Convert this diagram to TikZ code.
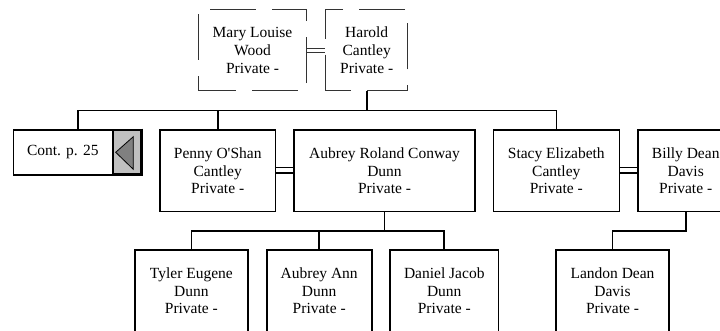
\documentclass[tikz,border=0pt]{standalone}
\usepackage{fontspec}
\newfontfamily\chartfont{Liberation Serif}
\usetikzlibrary{calc}
\definecolor{btngray}{HTML}{C0C0C0}
\definecolor{trigray}{HTML}{808080}
\begin{document}
\begin{tikzpicture}[x=1pt,y=-1pt,
  every node/.style={font=\chartfont\fontsize{15.5pt}{17.8pt}\selectfont},
  person/.style={draw=black, line width=1.6pt, align=center, inner sep=0pt, minimum height=81.7pt},
  parentbox/.style={draw=black!80, line width=1pt, align=center, inner sep=0pt, minimum height=80.7pt, dash pattern=on 46pt off 16pt},
  conn/.style={line width=1.6pt, draw=black},
  pconn/.style={line width=1pt, draw=black!80},
  dbl/.style={line width=1.4pt, draw=black},
]
\useasboundingbox (0,0) rectangle (720,331);
\clip (0,0) rectangle (720,331);

% parents
\node[parentbox, minimum width=108.4pt, dash phase=8pt] (mary) at (252.5,50.35) {Mary Louise\\Wood\\Private -};
\node[parentbox, minimum width=82pt, dash phase=20.6pt] (harold) at (366.7,50.35) {Harold\\Cantley\\Private -};
\draw[pconn] ([yshift=1.9pt]mary.east) -- ([yshift=1.9pt]harold.west);
\draw[pconn] ([yshift=-1.9pt]mary.east) -- ([yshift=-1.9pt]harold.west);

% continuation box
\node[draw=black, line width=1.4pt, fill=white, inner sep=0pt, minimum width=99pt, minimum height=45pt] (conttext) at (62.8,152.5) {Cont. p. 25};
\node[draw=black, line width=1.4pt, fill=btngray, inner sep=0pt, minimum width=28.4pt, minimum height=45pt, anchor=west] (contbtn) at (conttext.east) {};
\draw[line width=2.8pt] ([xshift=-1pt,yshift=0.7pt]contbtn.north east) -- ([xshift=-1pt,yshift=1pt]contbtn.south east) -- ([yshift=1pt]contbtn.south west);
\draw[fill=trigray, line width=0.8pt] (115.7,152.3) -- (133.3,136.7) -- (133.3,169.3) -- cycle;
\coordinate (conttop) at ($(conttext.north west)!0.5!(contbtn.north east)$);

% generation 2
\node[person, minimum width=115.3pt] (penny) at (217.7,170.85) {Penny O'Shan\\Cantley\\Private -};
\node[person, minimum width=181pt] (aubrey) at (384.5,170.85) {Aubrey Roland Conway\\Dunn\\Private -};
\node[person, minimum width=126pt] (stacy) at (556.3,170.85) {Stacy Elizabeth\\Cantley\\Private -};
\node[person, minimum width=96pt] (billy) at (685.7,170.85) {Billy Dean\\Davis\\Private -};
\draw[dbl] ([yshift=3.3pt]penny.east) -- ([yshift=3.3pt]aubrey.west);
\draw[dbl] ([yshift=-2.2pt]penny.east) -- ([yshift=-2.2pt]aubrey.west);
\draw[dbl] ([yshift=3.3pt]stacy.east) -- ([yshift=3.3pt]billy.west);
\draw[dbl] ([yshift=-2.2pt]stacy.east) -- ([yshift=-2.2pt]billy.west);

% generation 3
\node[person, minimum width=112.7pt] (tyler) at (191.35,290.85) {Tyler Eugene\\Dunn\\Private -};
\node[person, minimum width=105pt] (ann) at (319.2,290.85) {Aubrey Ann\\Dunn\\Private -};
\node[person, minimum width=108.5pt] (daniel) at (444.25,290.85) {Daniel Jacob\\Dunn\\Private -};
\node[person, minimum width=113pt] (landon) at (612.5,290.85) {Landon Dean\\Davis\\Private -};

% connectors
\coordinate (bar1) at (0,110.7);
\coordinate (bar2) at (0,231);
\draw[conn] (harold.south) -- (harold.south |- bar1);
\draw[conn] (conttop) -- (conttop |- bar1) -- (stacy.north |- bar1) -- (stacy.north);
\draw[conn] (penny.north) -- (penny.north |- bar1);
\draw[conn] (aubrey.south) -- (aubrey.south |- bar2);
\draw[conn] (tyler.north) -- (tyler.north |- bar2) -- (daniel.north |- bar2) -- (daniel.north);
\draw[conn] (ann.north) -- (ann.north |- bar2);
\draw[conn] (billy.south) -- (billy.south |- bar2) -| (landon.north);
\end{tikzpicture}
\end{document}
